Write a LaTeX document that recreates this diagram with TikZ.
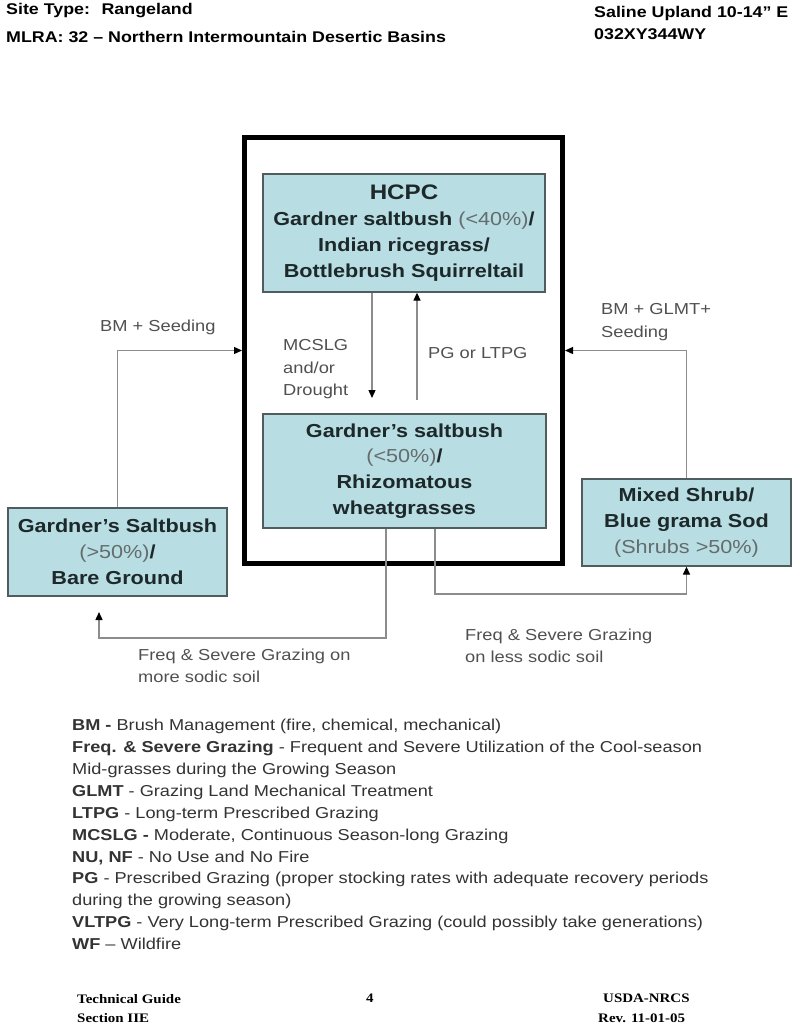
\documentclass[tikz,border=0pt]{standalone}
\usepackage{fontspec}
\setmainfont[FakeStretch=1.15]{Liberation Sans}
\newfontfamily\footfont[FakeStretch=1.15]{Liberation Serif}
\usetikzlibrary{arrows.meta}
\definecolor{teal1}{RGB}{184,221,226}
\definecolor{boxline}{RGB}{80,92,94}
\definecolor{boxtext}{RGB}{28,40,42}
\definecolor{pctgray}{RGB}{100,108,110}
\definecolor{lbltext}{RGB}{80,80,80}
\definecolor{arrowgray}{RGB}{140,140,140}
\newcommand{\pct}[1]{{\mdseries\color{pctgray}#1}}

\begin{document}
\begin{tikzpicture}[x=1pt,y=-1pt,
  stbox/.style={draw=boxline, fill=teal1, line width=1.3pt, align=center, inner sep=0pt,
    text=boxtext, font=\fontsize{18.8}{25.8}\selectfont\bfseries},
  lbl/.style={anchor=west, align=left, inner sep=0pt, text=lbltext,
    font=\fontsize{15.9}{22.5}\selectfont},
  hdr/.style={anchor=west, inner sep=0pt, font=\fontsize{15.5}{18}\selectfont\bfseries},
  ftr/.style={anchor=north west, align=left, inner sep=0pt,
    font=\footfont\fontsize{13}{19.5}\selectfont\bfseries},
  tr/.style={draw=arrowgray, line width=1.3pt, -{Triangle[length=8pt,width=7pt,color=black]}}]
\useasboundingbox (0,0) rectangle (800,1036);

% header
\node (h1)[hdr] at (6,11) {Site Type:~ Rangeland};
\node (h2)[hdr] at (6,37) {MLRA: 32 -- Northern Intermountain Desertic Basins};
\node (h3)[hdr] at (594,13) {Saline Upland 10-14'' E};
\node (h4)[hdr] at (594,34) {032XY344WY};

% states
\node (0)[draw, line width=5pt, minimum width=318pt, minimum height=426pt] at (403.5,350.5) {};
\node (1)[stbox, minimum width=282pt, minimum height=118pt] at (404,233)
  {{\fontsize{21}{25.8}\selectfont HCPC}\\Gardner saltbush \pct{(<40\%)}/\\Indian ricegrass/\\Bottlebrush Squirreltail};
\node (2)[stbox, minimum width=283pt, minimum height=114pt] at (404.5,471)
  {Gardner’s saltbush\\\pct{(<50\%)}/\\Rhizomatous\\wheatgrasses};
\node (3)[stbox, minimum width=219pt, minimum height=88pt] at (117.5,552)
  {Gardner’s Saltbush\\\pct{(>50\%)}/\\Bare Ground};
\node (4)[stbox, minimum width=209pt, minimum height=87pt] at (686.5,522.5)
  {Mixed Shrub/\\Blue grama Sod\\\pct{(Shrubs >50\%)}};

% transitions
\coordinate (d1) at (372,398);
\coordinate (u1) at (417,400);
\coordinate (b1) at (386,638);
\coordinate (b2) at (99,612);
\coordinate (b3) at (435,594);
\draw[tr] (d1 |- 1.south) -- (d1);
\draw[tr] (u1) -- (u1 |- 1.south);
\draw[tr] (3.north) |- (0.west);
\draw[tr] (4.north) |- (0.east);
\draw[tr] (b1 |- 2.south) -- (b1) -| (b2);
\draw[tr] (b3 |- 2.south) -- (b3) -| (4.south);

\node (5)[lbl] at (100,327) {BM + Seeding};
\node (6)[lbl, anchor=north west] at (601,303.5) {BM + GLMT+\\Seeding};
\node (7)[lbl, anchor=north west] at (283,339.5) {MCSLG\\and/or\\Drought};
\node (8)[lbl] at (428,353) {PG or LTPG};
\node (9)[lbl, anchor=north west] at (138,648.5) {Freq \& Severe Grazing on\\more sodic soil};
\node (10)[lbl, anchor=north west] at (465,628.5) {Freq \& Severe Grazing\\on less sodic soil};

% legend
\node (11)[anchor=north west, align=left, inner sep=0pt, text=black!80,
  font=\fontsize{15.8}{21.9}\selectfont] at (72,719)
  {\textbf{BM -} Brush Management (fire, chemical, mechanical)\\
   \textbf{Freq. \& Severe Grazing} - Frequent and Severe Utilization of the Cool-season\\
   Mid-grasses during the Growing Season\\
   \textbf{GLMT} - Grazing Land Mechanical Treatment\\
   \textbf{LTPG} - Long-term Prescribed Grazing\\
   \textbf{MCSLG -} Moderate, Continuous Season-long Grazing\\
   \textbf{NU, NF} - No Use and No Fire\\
   \textbf{PG} - Prescribed Grazing (proper stocking rates with adequate recovery periods\\
   during the growing season)\\
   \textbf{VLTPG} - Very Long-term Prescribed Grazing (could possibly take generations)\\
   \textbf{WF} -- Wildfire};

% footer
\node (12)[ftr] at (77,994) {Technical Guide\\Section IIE};
\node (13)[ftr] at (366,994) {4};
\node (14)[ftr] at (598,994) {\hspace*{5pt}USDA-NRCS\\Rev. 11-01-05};
\end{tikzpicture}
\end{document}
